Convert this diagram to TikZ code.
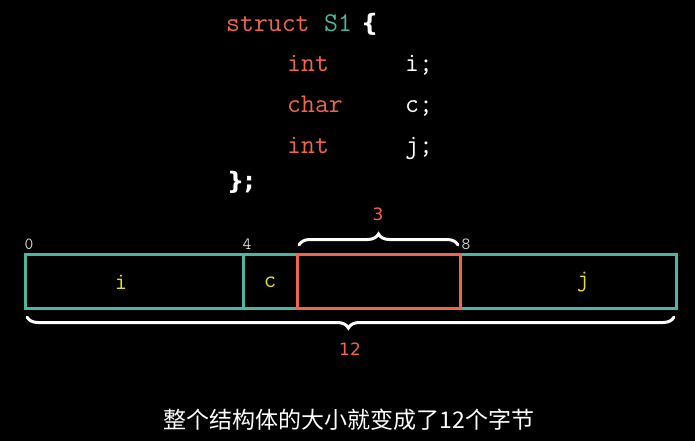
\documentclass[tikz,border=0pt]{standalone}
\usepackage{fontspec}
\setmainfont{DejaVu Sans}
\setmonofont{Latin Modern Mono}
\newfontfamily\bracefont{DejaVu Sans}
\newfontfamily\cjk{Noto Sans CJK SC}
\usetikzlibrary{decorations.pathreplacing}
\definecolor{kw}{HTML}{F0654E}
\definecolor{tealc}{HTML}{4DB6A0}
\definecolor{yel}{HTML}{E8E010}
\begin{document}
\begin{tikzpicture}[x=1pt,y=1pt,
  code/.style={inner sep=0pt,anchor=base west,font=\ttfamily\fontsize{27}{27}\selectfont},
  offs/.style={inner sep=0pt,anchor=base,text=white!85!black,font=\ttfamily\fontsize{17}{17}\selectfont},
  fld/.style={inner sep=0pt,text=yel,font=\ttfamily\fontsize{24}{24}\selectfont},
  cnt/.style={inner sep=0pt,anchor=base,text=kw,font=\fontsize{17}{17}\selectfont},
  brc/.style={draw=white,line width=3pt,line cap=round,decorate,decoration={brace,amplitude=11pt,aspect=#1}}]
\fill[black] (0,0) rectangle (695,-441);
\useasboundingbox (0,0) rectangle (695,-441);
% code
\node[code,text=kw] (st) at (226,-32) {struct};
\node[code,text=tealc] (s1) at (324,-32) {S1};
\node[code,text=white,font=\bracefont\bfseries\fontsize{24}{24}\selectfont] (ob) at (361,-32) {\{};
\node[code,text=kw] (t1) at (287,-72) {int};
\node[code,text=white] (v1) at (405,-72) {i;};
\node[code,text=kw] (t2) at (287,-113) {char};
\node[code,text=white] (v2) at (405,-113) {c;};
\node[code,text=kw] (t3) at (287,-153) {int};
\node[code,text=white] (v3) at (405,-153) {j;};
\node[code,text=white,font=\bracefont\bfseries\fontsize{24}{24}\selectfont] (cb) at (227,-189) {\};};
% memory layout
\coordinate (a0) at (25,-254);
\coordinate (a4) at (243,-254);
\coordinate (a5) at (297,-254);
\coordinate (a8) at (460,-254);
\coordinate (a12) at (676,-254);
\coordinate (b0) at (25,-308);
\coordinate (b4) at (243,-308);
\coordinate (b5) at (297,-308);
\coordinate (b8) at (460,-308);
\coordinate (b12) at (676,-308);
\draw[tealc,line width=3pt] (a0) rectangle (b12);
\draw[tealc,line width=3pt] (a4) -- (b4);
\draw[kw,line width=3pt] (a5) rectangle (b8);
\node[fld] (fi) at (121,-282) {i};
\node[fld] (fc) at (270,-282) {c};
\node[fld] (fj) at (583,-282) {j};
\node[offs] (o0) at (29,-249) {0};
\node[offs] (o4) at (247,-249) {4};
\node[offs] (o8) at (466,-249) {8};
% braces
\coordinate (tb1) at (299,-245);
\coordinate (tb2) at (458,-245);
\draw[brc=0.5] (tb1) -- (tb2);
\node[cnt] (n3) at (378,-220) {3};
\coordinate (bb1) at (674,-317);
\coordinate (bb2) at (27,-317);
\draw[brc=0.5033] (bb1) -- (bb2);
\node[cnt] (n12) at (350,-355) {12};
% caption
\node[inner sep=0pt,anchor=base,text=white,font=\cjk\fontsize{23}{23}\selectfont] (cap) at (349,-428) {整个结构体的大小就变成了12个字节};
\end{tikzpicture}
\end{document}
